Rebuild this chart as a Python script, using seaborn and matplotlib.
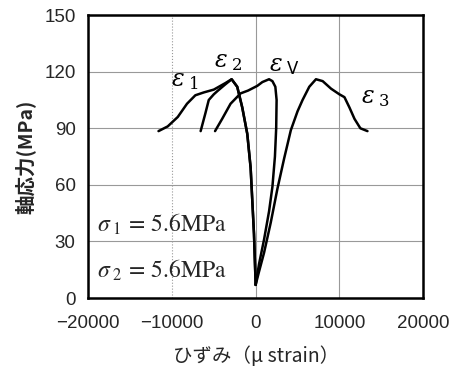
import matplotlib
matplotlib.use("Agg")
import matplotlib.pyplot as plt
import seaborn as sns
import pandas as pd

# Curve data (strain in micro strain, stress in MPa)
e1_strain = [0, -200, -600, -1000, -1600, -2200, -2870, -3600, -5000, -6200, -7200, -8200, -9300, -10500, -11600]
e1_stress = [7, 34, 69, 87, 101, 112, 116, 114, 110.5, 109, 107.5, 103, 96, 91, 88.5]

e2_strain = [0, -200, -600, -1000, -1600, -2200, -2870, -3700, -4500, -5000, -5600, -6000, -6570]
e2_stress = [7, 34, 69, 87, 101, 112, 116, 113, 110, 108, 105, 98, 88.5]

ev_strain = [0, 400, 1000, 1600, 2000, 2300, 2450, 2500, 2350, 2000, 1600, 800, 200, -900, -1800, -3000, -4000, -4850]
ev_stress = [7, 18, 31, 46, 59, 75, 90, 105, 112, 115, 116, 114.5, 112.5, 110, 108.5, 103, 95, 88.5]

e3_strain = [0, 400, 1000, 1800, 2600, 3400, 4200, 5000, 5600, 6400, 7200, 8000, 9000, 10000, 10600, 11200, 11800, 12500, 13350]
e3_stress = [7, 14, 24, 40, 58, 74, 89, 99, 105, 112, 116, 115, 111, 108, 106.5, 101, 95, 90, 88.5]

labels = ["$\\varepsilon_{\\ 1}$", "$\\varepsilon_{\\ 2}$", "$\\varepsilon_{\\ \\mathsf{V}}$", "$\\varepsilon_{\\ 3}$"]
label_x = [-8400, -3200, 3400, 14300]
label_y = [115, 125, 123, 106]

x_ticks = [-20000, -10000, 0, 10000, 20000]
y_ticks = [0, 30, 60, 90, 120, 150]

sns.set_style("white")
plt.rcParams["font.family"] = ["Liberation Sans", "Noto Sans CJK JP", "DejaVu Sans"]
plt.rcParams["mathtext.fontset"] = "stix"

fig = plt.figure(figsize=(4.64, 3.68), dpi=100)
ax = fig.add_axes([0.19, 0.19, 0.722, 0.769])

for xs, ys in [(e1_strain, e1_stress), (e2_strain, e2_stress), (ev_strain, ev_stress), (e3_strain, e3_stress)]:
    df = pd.DataFrame({"strain": xs, "stress": ys})
    sns.lineplot(data=df, x="strain", y="stress", sort=False, estimator=None,
                 color="black", linewidth=1.8, ax=ax)

for txt, x, y in zip(labels, label_x, label_y):
    ax.text(x, y, txt, fontsize=17, ha="center", va="center", color="black",
            math_fontfamily="dejavuserif")

ax.text(-18900, 39, "$\\sigma_{\\ 1}\\,{=}\\,5.6\\mathrm{MPa}$", fontsize=17, va="center")
ax.text(-18900, 14.5, "$\\sigma_{\\ 2}\\,{=}\\,5.6\\mathrm{MPa}$", fontsize=17, va="center")

ax.set_xlim(-20000, 20000)
ax.set_ylim(0, 150)
ax.set_xticks(x_ticks)
ax.set_yticks(y_ticks)
ax.set_xticklabels(["\u221220000", "\u221210000", "0", "10000", "20000"])
ax.tick_params(labelsize=13.5, length=0)
ax.tick_params(axis="x", pad=12)
ax.tick_params(axis="y", pad=9)
ax.grid(True, color="#999999", linewidth=0.8)
ax.get_xgridlines()[1].set_linestyle(":")
for s in ax.spines.values():
    s.set_color("black")
    s.set_linewidth(1.8)

ax.set_xlabel("ひずみ（μ strain）", fontsize=14, labelpad=10, family=["Noto Sans CJK JP", "DejaVu Sans"])
ax.set_ylabel("軸応力(MPa)", fontsize=14, fontweight="bold", labelpad=6, family=["Noto Sans CJK JP", "DejaVu Sans"])

fig.savefig("out.png", dpi=100)
